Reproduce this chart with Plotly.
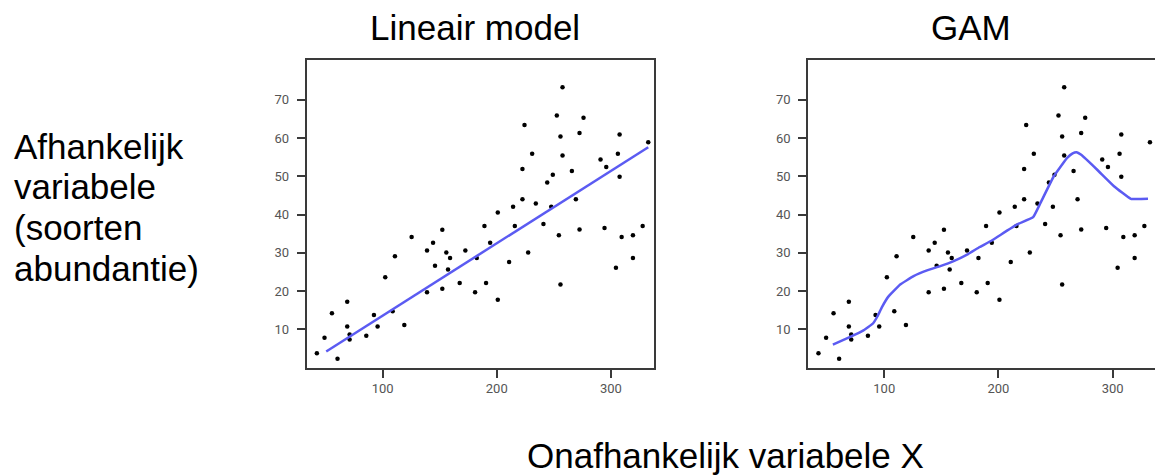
import plotly.graph_objects as go
from plotly.subplots import make_subplots

# scatter data (same observations in both panels)
obs_x = [42.4, 49.1, 55.6, 60.5, 69.0, 69.0, 71.1, 71.1, 85.7, 92.4, 95.6, 102.3,
         108.8, 110.8, 119.0, 125.4, 138.9, 138.9, 144.2, 145.9, 152.3, 152.3,
         155.8, 157.3, 159.1, 167.5, 172.5,
         181.0, 182.5, 189.2, 190.6, 194.2, 200.9, 200.9, 210.8, 214.3, 215.8,
         222.5, 222.5, 224.3, 227.5, 231.0, 234.2, 240.9, 244.2, 247.7, 249.1,
         252.6, 254.4, 255.8, 255.8, 257.6, 257.6, 265.8, 269.3, 272.5, 272.5,
         276.0, 290.9, 294.4, 295.9, 304.4, 306.1, 307.6, 307.6, 309.4, 319.3,
         319.3, 327.8, 332.7]
obs_y = [3.7, 7.8, 14.2, 2.3, 17.2, 10.7, 8.6, 7.3, 8.3, 13.7, 10.7, 23.6,
         14.7, 29.1, 11.1, 34.1, 30.6, 19.7, 32.6, 26.6, 36.0, 20.6,
         30.1, 25.6, 28.6, 22.1, 30.6,
         19.7, 28.6, 37.0, 22.1, 32.6, 40.5, 17.7, 27.6, 42.0, 37.0,
         51.9, 44.0, 63.4, 30.1, 55.9, 42.9, 37.5, 48.4, 42.0, 50.4,
         65.9, 34.6, 60.4, 21.7, 73.3, 55.4, 51.4, 44.0, 61.3, 36.1,
         65.3, 54.4, 36.5, 52.4, 26.1, 55.9, 60.9, 49.9, 34.1, 34.6,
         28.6, 37.0, 58.9]

# fitted lines
lin_x = [50.6, 332.7]
lin_y = [4.2, 57.6]

gam_x = [55.0, 70.2, 81.8, 90.1, 94.1, 98.0, 103.8, 114.0, 125.7, 137.5, 149.1,
         160.8, 172.5, 183.6, 193.0, 216.4, 230.4, 236.8, 248.5, 260.2, 265.0,
         268.5, 272.5, 286.5, 301.2, 316.0, 331.0]
gam_y = [6.0, 8.0, 9.7, 11.5, 13.4, 15.8, 18.6, 21.7, 23.9, 25.4, 26.5,
         27.8, 29.5, 31.5, 33.0, 37.4, 39.3, 43.0, 50.0, 54.8, 56.0,
         56.3, 55.6, 51.7, 47.4, 44.1, 44.1]

x_ticks = [100, 200, 300]
y_ticks = [10, 20, 30, 40, 50, 60, 70]

left_label = ["Afhankelijk", "variabele", "(soorten", "abundantie)"]

# the page body has an 8px margin, so lay out in page pixels and shift
OFF = 8
W, H = 1163 - OFF, 475 - OFF


def px(x):
    return (x - OFF) / W


def py(y):
    return 1 - (y - OFF) / H


text_font = dict(family="Liberation Sans, Arial, sans-serif", size=35, color="#000000")
line_col = "#5b5bf2"

fig = make_subplots(rows=1, cols=2)

for col, (lx, ly) in enumerate([(lin_x, lin_y), (gam_x, gam_y)], start=1):
    fig.add_trace(go.Scatter(x=obs_x, y=obs_y, mode="markers",
                             marker=dict(size=4.5, color="black"),
                             showlegend=False), row=1, col=col)
    fig.add_trace(go.Scatter(x=lx, y=ly, mode="lines",
                             line=dict(color=line_col, width=2.5, shape="spline", smoothing=0.3),
                             showlegend=False), row=1, col=col)

axis_common = dict(showgrid=False, zeroline=False, showline=True, mirror=True,
                   linecolor="#3a3a3a", linewidth=2, ticks="outside", ticklen=8,
                   tickwidth=2, tickcolor="#3a3a3a",
                   tickfont=dict(family="Roboto, sans-serif", size=13, color="#555555"))

fig.update_xaxes(axis_common, range=[33.5, 338.0], tickvals=x_ticks)
fig.update_yaxes(axis_common, range=[0, 80.4], tickvals=y_ticks, ticklabelstandoff=5)

fig.update_layout(
    width=W, height=H,
    margin=dict(l=0, r=0, t=0, b=0),
    plot_bgcolor="white", paper_bgcolor="white",
    xaxis=dict(domain=[px(306.7), px(654.3)]),
    xaxis2=dict(domain=[px(808.3), px(1156.0)]),
    yaxis=dict(domain=[py(367.5), py(60)]),
    yaxis2=dict(domain=[py(367.5), py(60)]),
)

ann = [
    dict(text="Lineair model", x=px(474.5), y=py(28)),
    dict(text="GAM", x=px(971), y=py(28)),
    dict(text="Onafhankelijk variabele X", x=px(725), y=py(455)),
]
for a in ann:
    fig.add_annotation(xref="paper", yref="paper", showarrow=False,
                       xanchor="center", yanchor="middle", font=text_font, **a)

for i, t in enumerate(left_label):
    fig.add_annotation(xref="paper", yref="paper", showarrow=False,
                       x=px(12), y=py(146 + 40.7 * i),
                       xanchor="left", yanchor="middle", text=t, font=text_font)

fig.write_html("out.html")
